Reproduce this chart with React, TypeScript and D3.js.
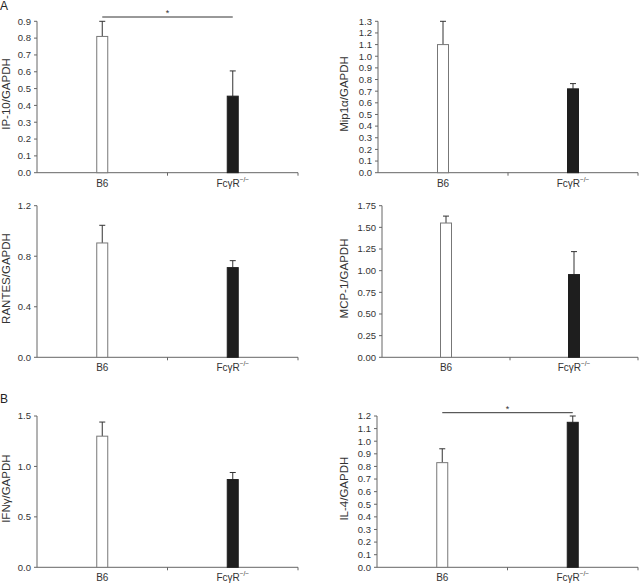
import * as d3 from "d3";

// group names on the x axis
const groups = ["B6", "FcγR"];

// measured ratios (bar height) per panel
const ip10 = [0.81, 0.455];
const mip1a = [1.1, 0.72];
const rantes = [0.905, 0.71];
const mcp1 = [1.55, 0.955];
const ifng = [1.3, 0.87];
const il4 = [0.83, 1.15];

// upper end of the error whisker
const ip10Err = [0.9, 0.605];
const mip1aErr = [1.3, 0.765];
const rantesErr = [1.045, 0.765];
const mcp1Err = [1.63, 1.22];
const ifngErr = [1.44, 0.94];
const il4Err = [0.94, 1.2];

// tick values of each y axis
const ip10Ticks = d3.range(0, 10).map((d) => d / 10);
const mip1aTicks = d3.range(0, 14).map((d) => d / 10);
const rantesTicks = [0, 0.4, 0.8, 1.2];
const mcp1Ticks = d3.range(0, 8).map((d) => d / 4);
const ifngTicks = [0, 0.5, 1, 1.5];
const il4Ticks = d3.range(0, 13).map((d) => d / 10);

const FONT = "'Liberation Sans', Arial, Helvetica, sans-serif";

type PanelProps = {
  left: number;
  right: number;
  top: number;
  bottom: number;
  max: number;
  ticks: number[];
  fmt: string;
  label: string;
  labelX: number;
  values: number[];
  errors: number[];
  sig?: number;
};

function Panel({ left, right, top, bottom, max, ticks, fmt, label, labelX, values, errors, sig }: PanelProps) {
  const y = d3.scaleLinear().domain([0, max]).range([bottom, top]);
  const x = d3.scaleBand().domain(groups).range([left, right]);
  const f = d3.format(fmt);
  const bw = 11;
  const mid = (top + bottom) / 2 - 3;
  return (
    <g fontFamily={FONT}>
      {/* y axis */}
      <line x1={left} x2={left} y1={top} y2={bottom} stroke="#666" />
      {ticks.map((t) => (
        <g key={t}>
          <line x1={left - 3} x2={left} y1={y(t)} y2={y(t)} stroke="#666" />
          <text x={left - 6} y={y(t)} dy="0.35em" textAnchor="end" fontSize={9.5} fill="#333">
            {f(t)}
          </text>
        </g>
      ))}
      <text
        transform={`translate(${labelX},${mid}) rotate(-90)`}
        textAnchor="middle"
        fontSize={11.5}
        fill="#333"
      >
        {label}
      </text>
      {/* x axis */}
      <line x1={left} x2={right} y1={bottom} y2={bottom} stroke="#666" />
      {[left + x.step(), right].map((t) => (
        <line key={t} x1={t} x2={t} y1={bottom} y2={bottom + 3} stroke="#666" />
      ))}
      {groups.map((g, i) => {
        const cx = x(g)! + x.bandwidth() / 2;
        return (
          <g key={g}>
            <line x1={cx} x2={cx} y1={y(values[i])} y2={y(errors[i])} stroke="#333" />
            <line x1={cx - 3} x2={cx + 3} y1={y(errors[i])} y2={y(errors[i])} stroke="#333" />
            <rect
              x={cx - bw / 2}
              y={y(values[i])}
              width={bw}
              height={bottom - y(values[i])}
              fill={i === 0 ? "#fff" : "#1e1e1e"}
              stroke={i === 0 ? "#777" : "#1e1e1e"}
            />
            <text x={cx} y={bottom + 14} textAnchor="middle" fontSize={10} fill="#333">
              {g}
              {i === 1 && (
                <tspan fontSize={6.5} dy={-5}>
                  −/−
                </tspan>
              )}
            </text>
          </g>
        );
      })}
      {sig !== undefined && (
        <g>
          <line
            x1={x(groups[0])! + x.bandwidth() / 2}
            x2={x(groups[1])! + x.bandwidth() / 2}
            y1={sig}
            y2={sig}
            stroke="#333"
          />
          <text x={left + x.step()} y={sig - 1} textAnchor="middle" fontSize={9} fill="#333">
            *
          </text>
        </g>
      )}
    </g>
  );
}

export default function App() {
  return (
    <svg
      width={639}
      height={586}
      style={{ position: "absolute", left: 0, top: 0, background: "#fff" }}
    >
      <text x={0} y={10} fontFamily={FONT} fontSize={12} fill="#222">A</text>
      <text x={0} y={403} fontFamily={FONT} fontSize={12} fill="#222">B</text>
      <Panel left={37} right={298} top={21.3} bottom={172.7} max={0.9} ticks={ip10Ticks} fmt=".1f"
        label="IP-10/GAPDH" labelX={9.5} values={ip10} errors={ip10Err} sig={17} />
      <Panel left={378} right={638} top={21.3} bottom={172.7} max={1.3} ticks={mip1aTicks} fmt=".1f"
        label="Mip1α/GAPDH" labelX={348} values={mip1a} errors={mip1aErr} />
      <Panel left={37} right={298} top={205.7} bottom={357.3} max={1.2} ticks={rantesTicks} fmt=".1f"
        label="RANTES/GAPDH" labelX={9.5} values={rantes} errors={rantesErr} />
      <Panel left={382} right={638} top={205.7} bottom={357.3} max={1.75} ticks={mcp1Ticks} fmt=".2f"
        label="MCP-1/GAPDH" labelX={348} values={mcp1} errors={mcp1Err} />
      <Panel left={37} right={298} top={416} bottom={567.3} max={1.5} ticks={ifngTicks} fmt=".1f"
        label="IFNγ/GAPDH" labelX={9.5} values={ifng} errors={ifngErr} />
      <Panel left={377} right={638} top={416} bottom={567.3} max={1.2} ticks={il4Ticks} fmt=".1f"
        label="IL-4/GAPDH" labelX={348} values={il4} errors={il4Err} sig={412.7} />
    </svg>
  );
}
